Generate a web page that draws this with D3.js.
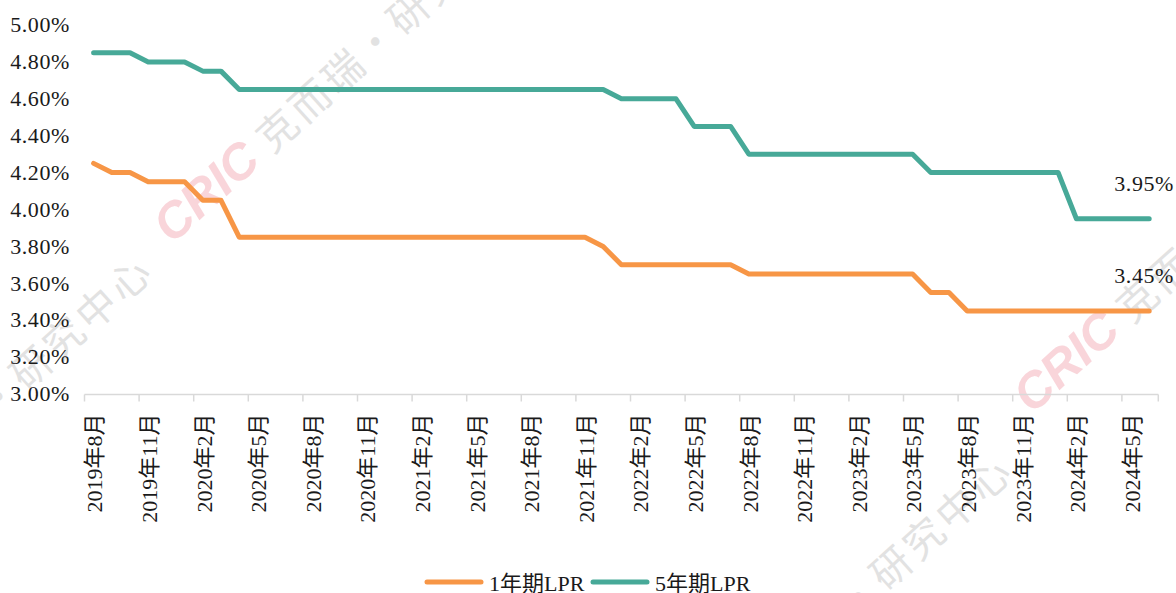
<!DOCTYPE html>
<html lang="zh">
<head>
<meta charset="UTF-8">
<title>LPR</title>
<script src="https://cdn.jsdelivr.net/npm/d3@7"></script>
<style>
  body { margin: 0; background: #fff; }
  text { font-family: "Liberation Serif", "Noto Sans CJK SC", serif; fill: #1a1a1a; }
</style>
</head>
<body>
<svg id="chart" width="1176" height="593"></svg>
<script>
// months 2019-08 .. 2024-06 (category axis)
var months = d3.timeMonths(new Date(2019, 7, 1), new Date(2024, 6, 1));

// 1年期LPR (%)
var lpr1 = [
  4.25, 4.20, 4.20, 4.15, 4.15,
  4.15, 4.05, 4.05, 3.85, 3.85, 3.85, 3.85, 3.85, 3.85, 3.85, 3.85, 3.85,
  3.85, 3.85, 3.85, 3.85, 3.85, 3.85, 3.85, 3.85, 3.85, 3.85, 3.85, 3.80,
  3.70, 3.70, 3.70, 3.70, 3.70, 3.70, 3.70, 3.65, 3.65, 3.65, 3.65, 3.65,
  3.65, 3.65, 3.65, 3.65, 3.65, 3.55, 3.55, 3.45, 3.45, 3.45, 3.45, 3.45,
  3.45, 3.45, 3.45, 3.45, 3.45, 3.45
];
// 5年期LPR (%)
var lpr5 = [
  4.85, 4.85, 4.85, 4.80, 4.80,
  4.80, 4.75, 4.75, 4.65, 4.65, 4.65, 4.65, 4.65, 4.65, 4.65, 4.65, 4.65,
  4.65, 4.65, 4.65, 4.65, 4.65, 4.65, 4.65, 4.65, 4.65, 4.65, 4.65, 4.65,
  4.60, 4.60, 4.60, 4.60, 4.45, 4.45, 4.45, 4.30, 4.30, 4.30, 4.30, 4.30,
  4.30, 4.30, 4.30, 4.30, 4.30, 4.20, 4.20, 4.20, 4.20, 4.20, 4.20, 4.20,
  4.20, 3.95, 3.95, 3.95, 3.95, 3.95
];
var yTicks = [3.0, 3.2, 3.4, 3.6, 3.8, 4.0, 4.2, 4.4, 4.6, 4.8, 5.0];
var seriesNames = ["1年期LPR", "5年期LPR"];
var colors = ["#F79646", "#47A998"];

var svg = d3.select("#chart");
var monthLabel = function(d) { return d.getFullYear() + "年" + (d.getMonth() + 1) + "月"; };

var x = d3.scaleBand()
    .domain(months.map(monthLabel))
    .range([84.5, 1158.3])
    .paddingInner(0).paddingOuter(0);
var y = d3.scaleLinear().domain([3, 5]).range([394, 25]);
var cx = function(i) { return x(monthLabel(months[i])) + x.bandwidth() / 2; };

// watermark, faint
function watermark(x0, y0) {
  var g = svg.append("g").attr("transform", "translate(" + x0 + "," + y0 + ") rotate(-42)");
  g.append("text").text("CRIC")
    .attr("font-size", 50).attr("font-weight", "bold").attr("font-style", "italic")
    .style("font-family", "Liberation Sans, sans-serif").style("fill", "#f7c4cb").attr("opacity", 0.7);
  g.append("text").text("克而瑞·研究中心").attr("x", 135)
    .attr("font-size", 40).attr("letter-spacing", 4)
    .style("font-family", "Noto Sans CJK SC, sans-serif").style("fill", "#d6d6d6").attr("opacity", 0.7);
}
watermark(172, 245);
watermark(-205, 600);
watermark(1032, 415);
watermark(655, 800);

// x axis
var xAxis = svg.append("g").attr("transform", "translate(0,394.5)");
xAxis.append("line").attr("x1", 84.5).attr("x2", 1158.3)
  .attr("stroke", "#d9d9d9").attr("stroke-width", 1.5);
var tickIdx = d3.range(0, months.length, 3);
xAxis.selectAll("line.tick").data(tickIdx.concat([months.length])).join("line")
  .attr("class", "tick")
  .attr("x1", function(i) { return i < months.length ? x(monthLabel(months[i])) : x.range()[1]; })
  .attr("x2", function(i) { return i < months.length ? x(monthLabel(months[i])) : x.range()[1]; })
  .attr("y1", 0).attr("y2", 7)
  .attr("stroke", "#d9d9d9").attr("stroke-width", 1.5);
xAxis.selectAll("text").data(tickIdx).join("text")
  .attr("transform", function(i) { return "translate(" + (cx(i) + 1) + ",19) rotate(-90)"; })
  .attr("text-anchor", "end").attr("dy", "0.35em")
  .attr("font-size", 22)
  .text(function(i) { return monthLabel(months[i]); });

// y axis labels
svg.append("g").selectAll("text").data(yTicks).join("text")
  .attr("x", 70).attr("y", function(d) { return y(d); })
  .attr("dy", "0.33em").attr("text-anchor", "end")
  .attr("font-size", 22).attr("letter-spacing", 0.6)
  .text(function(d) { return d.toFixed(2) + "%"; });

// lines
var line = d3.line().x(function(d, i) { return cx(i); }).y(function(d) { return y(d); });
[lpr1, lpr5].forEach(function(s, k) {
  svg.append("path").datum(s)
    .attr("fill", "none").attr("stroke", colors[k]).attr("stroke-width", 5)
    .attr("stroke-linejoin", "round").attr("stroke-linecap", "round")
    .attr("d", line);
  var last = s.length - 1;
  svg.append("text")
    .attr("x", cx(last) - 35).attr("y", y(s[last]) - 28)
    .attr("font-size", 22).attr("letter-spacing", 0.6)
    .text(s[last].toFixed(2) + "%");
});

// legend
var legend = svg.append("g").attr("transform", "translate(0,582)");
var legX = [425, 591];
seriesNames.forEach(function(name, k) {
  legend.append("line").attr("x1", legX[k] + 2).attr("x2", legX[k] + 56)
    .attr("stroke", colors[k]).attr("stroke-width", 5).attr("stroke-linecap", "round");
  legend.append("text").attr("x", legX[k] + 64).attr("y", 9)
    .attr("font-size", 22).text(name);
});
</script>
</body>
</html>
